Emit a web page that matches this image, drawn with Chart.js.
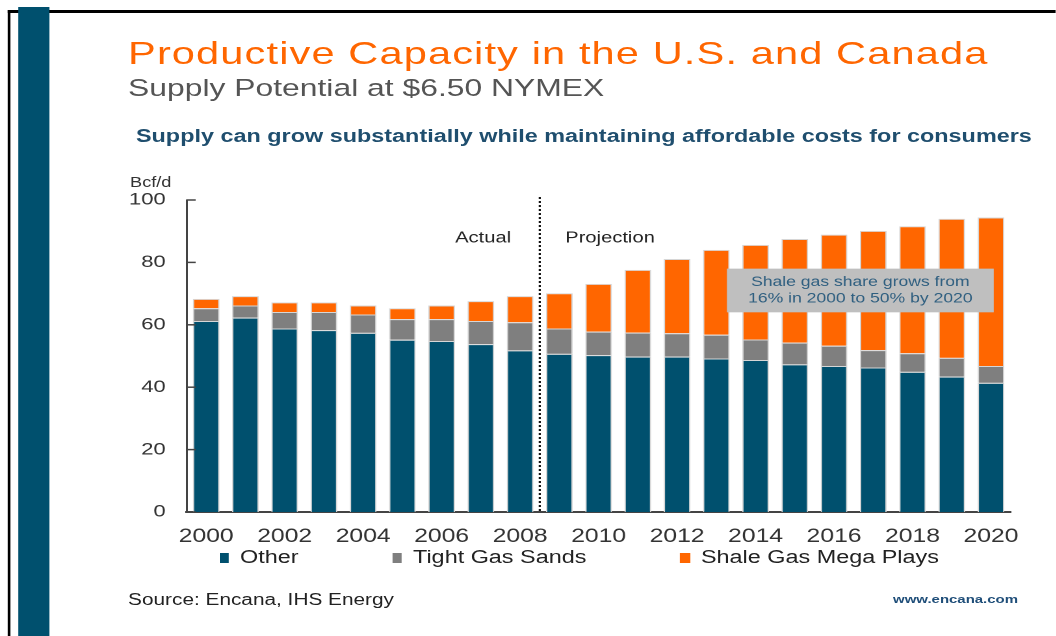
<!DOCTYPE html>
<html>
<head>
<meta charset="utf-8">
<script src="https://cdn.jsdelivr.net/npm/chart.js@4"></script>
<style>
  html, body { margin: 0; padding: 0; background: #fff; overflow: hidden; }
  body { width: 1056px; height: 636px; }
  /* the source slide is stretched sideways, so the whole page is laid out narrow and scaled */
  #slide { position: absolute; left: 0; top: 0; width: 812.3px; height: 636px;
           transform: scaleX(1.3); transform-origin: 0 0;
           font-family: "Liberation Sans", Arial, sans-serif; }
  #slide div { position: absolute; white-space: nowrap; }
  .frameTop { left: 6.2px; top: 10px; width: 806px; height: 2.5px; background: #000; }
  .frameLeft { left: 6.2px; top: 10px; width: 2.3px; height: 626px; background: #000; }
  .band { left: 13.8px; top: 7px; width: 24px; height: 629px; background: #00506e; }
  .title { left: 98.5px; top: 35px; font-size: 32px; color: #ff6600; letter-spacing: 0.85px; }
  .sub { left: 98.5px; top: 74px; font-size: 24.5px; color: #555; }
  .tag { left: 104.6px; top: 126px; font-size: 18px; font-weight: bold; color: #1f4e6e; }
  .unit { left: 100px; top: 174px; font-size: 14px; color: #333; }
  .source { left: 98.5px; top: 591px; font-size: 16px; color: #222; }
  .url { left: 687px; top: 593px; font-size: 11.5px; font-weight: bold; color: #1f4e79; }
  #legend { left: 168.5px; top: 547px; display: flex; align-items: center; font-size: 18px; color: #222; }
  #legend span.item { display: flex; align-items: center; margin-right: 72px; }
  #legend span.box { display: inline-block; width: 7.7px; height: 10px; margin-right: 8.4px; }
  #chart { position: absolute; left: 92.3px; top: 190px; }
</style>
</head>
<body>
<div id="slide">
  <div class="frameTop"></div>
  <div class="frameLeft"></div>
  <div class="band"></div>
  <div class="title">Productive Capacity in the U.S. and Canada</div>
  <div class="sub">Supply Potential at $6.50 NYMEX</div>
  <div class="tag">Supply can grow substantially while maintaining affordable costs for consumers</div>
  <div class="unit">Bcf/d</div>
  <canvas id="chart" width="703" height="358"></canvas>
  <div id="legend"></div>
  <div class="source">Source: Encana, IHS Energy</div>
  <div class="url">www.encana.com</div>
</div>
<script>
// data (Bcf/d)
const years = ['2000','2001','2002','2003','2004','2005','2006','2007','2008','2009','2010',
               '2011','2012','2013','2014','2015','2016','2017','2018','2019','2020'];
const other    = [61.2, 62.3, 58.8, 58.3, 57.4, 55.2, 54.8, 53.8, 51.8, 50.7, 50.3,
                  49.8, 49.8, 49.2, 48.7, 47.3, 46.8, 46.3, 44.9, 43.4, 41.4];
const tightGas = [4.1, 3.9, 5.3, 5.8, 5.9, 6.6, 7.0, 7.4, 9.0, 8.1, 7.5,
                  7.7, 7.5, 7.6, 6.6, 7.0, 6.5, 5.6, 6.0, 6.0, 5.4];
const shaleGas = [3.0, 3.0, 3.1, 3.1, 2.9, 3.5, 4.4, 6.4, 8.4, 11.3, 15.3,
                  20.1, 23.8, 27.2, 30.3, 33.2, 35.6, 38.2, 40.7, 44.6, 47.6];
const seriesNames = ['Other', 'Tight Gas Sands', 'Shale Gas Mega Plays'];
const seriesColors = ['#00506e', '#7f7f7f', '#ff6600'];
const yMax = 100, yStep = 20;
const noteLines = ['Shale gas share grows from', '16% in 2000 to 50% by 2020'];

// where the extra drawing sits, in scale units
const dividerAt = 8.5;
const phaseLabelAt = 87.8;
const noteBox = { x0: 13.27, x1: 20.07, y0: 64, y1: 78 };

const FONT = '"Liberation Sans", Arial, sans-serif';

// legend built from the series
const legend = document.getElementById('legend');
seriesNames.forEach((name, i) => {
  legend.innerHTML += `<span class="item"><span class="box" style="background:${seriesColors[i]}"></span>${name}</span>`;
});

const decor = {
  id: 'decor',
  afterDatasetsDraw(chart) {
    const { ctx, chartArea: a, scales: { x, y } } = chart;
    ctx.save();
    // tick marks point into the plot
    ctx.strokeStyle = '#444';
    ctx.lineWidth = 1.5;
    y.ticks.forEach(t => {
      const py = y.getPixelForValue(t.value);
      ctx.beginPath(); ctx.moveTo(a.left, py); ctx.lineTo(a.left + 7, py); ctx.stroke();
    });
    // actual / projection divider
    const dx = x.getPixelForValue(dividerAt);
    ctx.fillStyle = '#111';
    for (let py = a.top - 3; py < a.bottom; py += 4) ctx.fillRect(dx - 0.8, py, 1.6, 2);
    ctx.font = '15.5px ' + FONT;
    ctx.textBaseline = 'middle';
    ctx.fillStyle = '#222';
    const ly = y.getPixelForValue(phaseLabelAt);
    ctx.textAlign = 'right'; ctx.fillText('Actual', dx - 22, ly);
    ctx.textAlign = 'left'; ctx.fillText('Projection', dx + 19.6, ly);
    // note box
    const bx0 = x.getPixelForValue(noteBox.x0), bx1 = x.getPixelForValue(noteBox.x1);
    const by0 = y.getPixelForValue(noteBox.y1), by1 = y.getPixelForValue(noteBox.y0);
    ctx.fillStyle = '#bfbfbf';
    ctx.fillRect(bx0, by0, bx1 - bx0, by1 - by0);
    ctx.fillStyle = '#2f5f80';
    ctx.font = '13.5px ' + FONT;
    ctx.textAlign = 'center';
    const cx = (bx0 + bx1) / 2, cy = (by0 + by1) / 2;
    ctx.fillText(noteLines[0], cx, cy - 8.3);
    ctx.fillText(noteLines[1], cx, cy + 8.3);
    ctx.restore();
  }
};

new Chart(document.getElementById('chart'), {
  type: 'bar',
  data: {
    labels: years,
    datasets: [other, tightGas, shaleGas].map((d, i) => ({
      label: seriesNames[i],
      data: d,
      backgroundColor: seriesColors[i],
      borderColor: '#d6d6d6',
      borderWidth: 1,
      barPercentage: 0.68,
      categoryPercentage: 1
    }))
  },
  options: {
    responsive: false,
    animation: false,
    devicePixelRatio: 2,
    layout: { padding: { top: 10, right: 17.6, left: 0, bottom: 0 } },
    plugins: { legend: { display: false }, tooltip: { enabled: false } },
    scales: {
      x: {
        stacked: true,
        grid: { display: false, drawTicks: false },
        border: { display: true, color: '#444', width: 2 },
        ticks: {
          autoSkip: false, maxRotation: 0, padding: 13.6,
          color: '#333', font: { family: FONT, size: 19 },
          callback: (v, i) => (i % 2 === 0 ? years[i] : '')
        },
        afterFit: s => { s.height = 36; s.paddingLeft = 0; s.paddingRight = 0; }
      },
      y: {
        stacked: true, min: 0, max: yMax,
        grid: { display: false, drawTicks: false },
        border: { display: true, color: '#444', width: 1.5 },
        ticks: { stepSize: yStep, padding: 16, color: '#333', font: { family: FONT, size: 17 } },
        afterFit: s => { s.width = 51.5; s.paddingTop = 0; s.paddingBottom = 0; }
      }
    }
  },
  plugins: [decor]
});
</script>
</body>
</html>
